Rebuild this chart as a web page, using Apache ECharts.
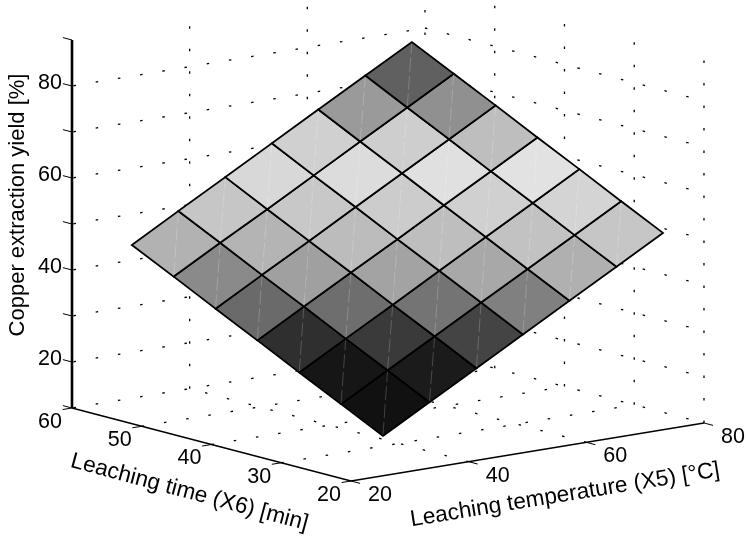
<!DOCTYPE html>
<html>
<head>
<meta charset="utf-8">
<style>html,body{margin:0;padding:0;background:#fff}#c{width:746px;height:540px}</style>
<script src="https://cdn.jsdelivr.net/npm/echarts@6/dist/echarts.min.js"></script>
</head>
<body>
<div id="c"></div>
<script>
// ---- chart data ----
var x5Ticks = [20, 40, 60, 80];
var x6Ticks = [20, 30, 40, 50, 60];
var zTicks = [10, 20, 30, 40, 50, 60, 70, 80, 90];
var zLabels = [20, 40, 60, 80];
var x5Mesh = [27.8, 35.7, 43.7, 51.6, 59.5, 67.5, 75.4];
var x6Mesh = [22, 28, 34, 40, 46, 52, 58];
// rows follow x6Mesh, columns follow x5Mesh
var zMesh = [
  [17.35, 23.04, 28.73, 34.42, 40.11, 45.8, 51.5],
  [21.9, 27.6, 33.3, 39.0, 44.6, 50.3, 56.0],
  [26.4, 32.1, 37.8, 43.5, 49.2, 54.9, 60.6],
  [31.0, 36.7, 42.4, 48.0, 53.7, 59.4, 65.1],
  [35.5, 41.2, 46.9, 52.6, 58.3, 64.0, 69.7],
  [40.1, 45.8, 51.4, 57.1, 62.8, 68.5, 74.2],
  [44.6, 50.3, 56.0, 61.7, 67.4, 73.1, 78.7]
];
// grey level of each face
var faceGrey = [
  [17, 27, 68, 128, 176, 198],
  [22, 58, 116, 168, 194, 212],
  [47, 110, 163, 190, 208, 226],
  [106, 160, 188, 204, 224, 190],
  [138, 180, 200, 220, 206, 144],
  [178, 198, 216, 208, 154, 96]
];

// ---- view ----
var X5_MIN = 20, X6_MIN = 20, X5_MAX = 80, X6_MAX = 60, Z_MIN = 10, Z_MAX = 90;
function proj(x5, x6, z) {
  return [
    351 + (x5 - X5_MIN) * 5.883 - (x6 - X6_MIN) * 6.975,
    481 - (x5 - X5_MIN) * 0.9667 - (x6 - X6_MIN) * 1.825 - (z - Z_MIN) * 4.6
  ];
}

// dotted grid segments: [start, end, dash shift]
var gridSegs = [];
x5Ticks.forEach(function (v) {
  if (v !== X5_MIN) gridSegs.push([[v, X6_MAX, Z_MIN], [v, X6_MAX, Z_MAX], 0]);
  if (v !== X5_MIN && v !== X5_MAX) gridSegs.push([[v, X6_MIN, Z_MIN], [v, X6_MAX, Z_MIN], 0]);
});
x6Ticks.forEach(function (v) {
  if (v !== X6_MAX) gridSegs.push([[X5_MAX, v, Z_MIN], [X5_MAX, v, Z_MAX], 0]);
  if (v !== X6_MIN && v !== X6_MAX) gridSegs.push([[X5_MIN, v, Z_MIN], [X5_MAX, v, Z_MIN], 0]);
});
zTicks.forEach(function (v) {
  if (v === Z_MAX) return;
  gridSegs.push([[X5_MIN, X6_MAX, v], [X5_MAX, X6_MAX, v], -1.5]);
  gridSegs.push([[X5_MAX, X6_MAX, v], [X5_MAX, X6_MIN, v], 0]);
});

var faces = [];
faceGrey.forEach(function (row, j) { row.forEach(function (g, i) { faces.push([i, j, g]); }); });

// axis strokes: [start, end, width]
var tl = 1.3;
var axisSegs = [
  [[X5_MIN, X6_MAX, Z_MIN], [X5_MIN, X6_MIN, Z_MIN], 1.5],
  [[X5_MIN, X6_MIN, Z_MIN], [X5_MAX, X6_MIN, Z_MIN], 1.5],
  [[X5_MIN, X6_MAX, Z_MIN], [X5_MIN, X6_MAX, Z_MAX], 2.6]
];
x5Ticks.forEach(function (v) { axisSegs.push([[v, X6_MIN, Z_MIN], [v, X6_MIN - tl, Z_MIN], 1]); });
x6Ticks.forEach(function (v) { axisSegs.push([[X5_MIN, v, Z_MIN], [X5_MIN - 1.6, v, Z_MIN], 1]); });
zTicks.forEach(function (v) { axisSegs.push([[X5_MIN, X6_MAX, v], [X5_MIN, X6_MAX + tl, v], 1]); });

// text labels: [string, anchor, dx, dy, rotationDeg, size]
var FONT = '"Liberation Sans", Arial, sans-serif';
var labels = [];
x5Ticks.forEach(function (v) { labels.push([String(v), [v, X6_MIN, Z_MIN], 29, 14, 0, 21.5]); });
x6Ticks.forEach(function (v) { labels.push([String(v), [X5_MIN, v, Z_MIN], -22, 14, 0, 21.5]); });
zLabels.forEach(function (v) { labels.push([String(v), [X5_MIN, X6_MAX, v], -22, -3, 0, 21.5]); });
labels.push(['Copper extraction yield [%]', [X5_MIN, X6_MAX, 50], -54.5, -19, 90, 22]);
labels.push(['Leaching time (X6) [min]', [X5_MIN, 40, Z_MIN], -22, 48, -15, 22.6]);
labels.push(['Leaching temperature (X5) [°C]', [50, X6_MIN, Z_MIN], 37.5, 43, 9.2, 22.6]);

function pt(api, d) { return api.coord(proj(d[0], d[1], d[2])); }
function indices(a) { return a.map(function (_, i) { return [i]; }); }

var option = {
  animation: false,
  backgroundColor: '#fff',
  grid: { left: 0, right: 0, top: 0, bottom: 0 },
  xAxis: { type: 'value', min: 0, max: 746, show: false },
  yAxis: { type: 'value', min: 0, max: 540, inverse: true, show: false },
  series: [
    {
      type: 'custom', coordinateSystem: 'cartesian2d', clip: false, silent: true,
      data: indices(gridSegs),
      renderItem: function (p, api) {
        var s = gridSegs[p.dataIndex], a = pt(api, s[0]), b = pt(api, s[1]);
        return { type: 'line', shape: { x1: a[0], y1: a[1], x2: b[0], y2: b[1] },
          style: { stroke: '#000', lineWidth: 1.3, lineDash: [2.5, 20], lineDashOffset: s[2], fill: null } };
      }
    },
    {
      type: 'custom', coordinateSystem: 'cartesian2d', clip: false, silent: true,
      data: faces,
      renderItem: function (p, api) {
        var i = api.value(0), j = api.value(1), g = api.value(2);
        function v(ii, jj) { return pt(api, [x5Mesh[ii], x6Mesh[jj], zMesh[jj][ii]]); }
        var A = v(i, j), B = v(i + 1, j), C = v(i + 1, j + 1), D = v(i, j + 1);
        return { type: 'group', children: [
          { type: 'polygon', shape: { points: [A, B, C, D] },
            style: { fill: 'rgb(' + g + ',' + g + ',' + g + ')', stroke: null } },
          { type: 'line', shape: { x1: A[0], y1: A[1], x2: C[0], y2: C[1] },
            style: { stroke: 'rgba(255,255,255,0.25)', lineWidth: 0.8, lineDash: [14, 4], fill: null } },
          { type: 'polygon', shape: { points: [A, B, C, D] },
            style: { fill: null, stroke: '#000', lineWidth: 1.8, lineJoin: 'miter' } }
        ] };
      }
    },
    {
      type: 'custom', coordinateSystem: 'cartesian2d', clip: false, silent: true,
      data: indices(axisSegs),
      renderItem: function (p, api) {
        var s = axisSegs[p.dataIndex], a = pt(api, s[0]), b = pt(api, s[1]);
        return { type: 'line', shape: { x1: a[0], y1: a[1], x2: b[0], y2: b[1] },
          style: { stroke: '#000', lineWidth: s[2], fill: null } };
      }
    },
    {
      type: 'custom', coordinateSystem: 'cartesian2d', clip: false, silent: true,
      data: indices(labels),
      renderItem: function (p, api) {
        var l = labels[p.dataIndex], a = pt(api, l[1]);
        return { type: 'text', x: a[0] + l[2], y: a[1] + l[3], rotation: l[4] * Math.PI / 180,
          style: { text: l[0], font: l[5] + 'px ' + FONT, fill: '#000', align: 'center', verticalAlign: 'middle' } };
      }
    }
  ]
};
var chart = echarts.init(document.getElementById('c'), null, { renderer: 'canvas' });
chart.setOption(option);
</script>
</body>
</html>
